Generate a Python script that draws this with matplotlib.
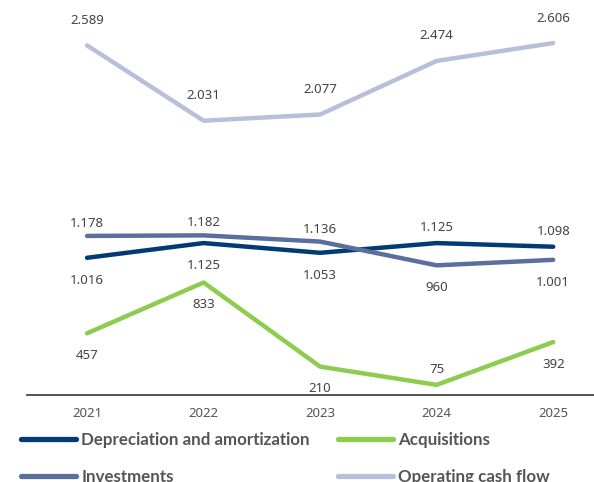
import matplotlib.pyplot as plt
import numpy as np

plt.rcParams['font.family'] = ['Noto Sans', 'DejaVu Sans']

years = ['2021', '2022', '2023', '2024', '2025']
depreciation = [1016, 1125, 1053, 1125, 1098]
investments = [1178, 1182, 1136, 960, 1001]
acquisitions = [457, 833, 210, 75, 392]
operating_cf = [2589, 2031, 2077, 2474, 2606]

# label side per point: +1 above, -1 below
dep_side = [-1, -1, -1, 1, 1]
inv_side = [1, 1, 1, -1, -1]
acq_side = [-1, -1, -1, 1, -1]
ocf_side = [1, 1, 1, 1, 1]


def fmt(v):
    return f'{v:,}'.replace(',', '.')


fig = plt.figure(figsize=(5.94, 4.82), dpi=100)
ax = fig.add_axes([0.0455, 0.1805, 0.9545, 0.8195])
x = np.arange(len(years))

series = [
    ('Depreciation and amortization', depreciation, '#003b73', dep_side),
    ('Acquisitions', acquisitions, '#8dcc4f', acq_side),
    ('Investments', investments, '#5a6f9e', inv_side),
    ('Operating cash flow', operating_cf, '#b8c0d9', ocf_side),
]
lines = {}
for name, vals, col, side in series:
    ln, = ax.plot(x, vals, color=col, lw=3.2, solid_capstyle='round', label=name)
    lines[name] = ln
    for xi, v, s in zip(x, vals, side):
        if name == 'Operating cash flow':
            off = 18
        elif s > 0:
            off = 9 if name == 'Investments' else 11
        else:
            off = -16
        ax.annotate(fmt(v), (xi, v), xytext=(0, off), textcoords='offset points',
                    ha='center', va='center', fontsize=9.5, color='#444444')

ax.set_xlim(-0.515, 4.35)
ax.set_ylim(0, 2925)
ax.set_xticks(x)
ax.set_xticklabels(years)
ax.set_yticks([])
for sp in ['top', 'right', 'left']:
    ax.spines[sp].set_visible(False)
ax.spines['bottom'].set_color('#444444')
ax.spines['bottom'].set_linewidth(1.3)
ax.tick_params(axis='x', length=0, pad=9, labelsize=9.5, labelcolor='#555555')

# legend: one entry per slot, placed like the reference
slots = [('Depreciation and amortization', 21, 440),
         ('Acquisitions', 338, 440),
         ('Investments', 21, 477),
         ('Operating cash flow', 338, 477)]
for name, px, py in slots:
    h = plt.Line2D([], [], color=lines[name].get_color(), lw=3.8, solid_capstyle='round')
    leg = fig.legend([h], [name], loc='center left',
                     bbox_to_anchor=(px / 594, 1 - py / 482), frameon=False,
                     handlelength=3.25, handletextpad=0.3, borderaxespad=0,
                     borderpad=0, prop={'family': 'Lato', 'weight': 'bold', 'size': 12.2})
    for t in leg.get_texts():
        t.set_color('#555555')

fig.savefig('out.png', dpi=100)
